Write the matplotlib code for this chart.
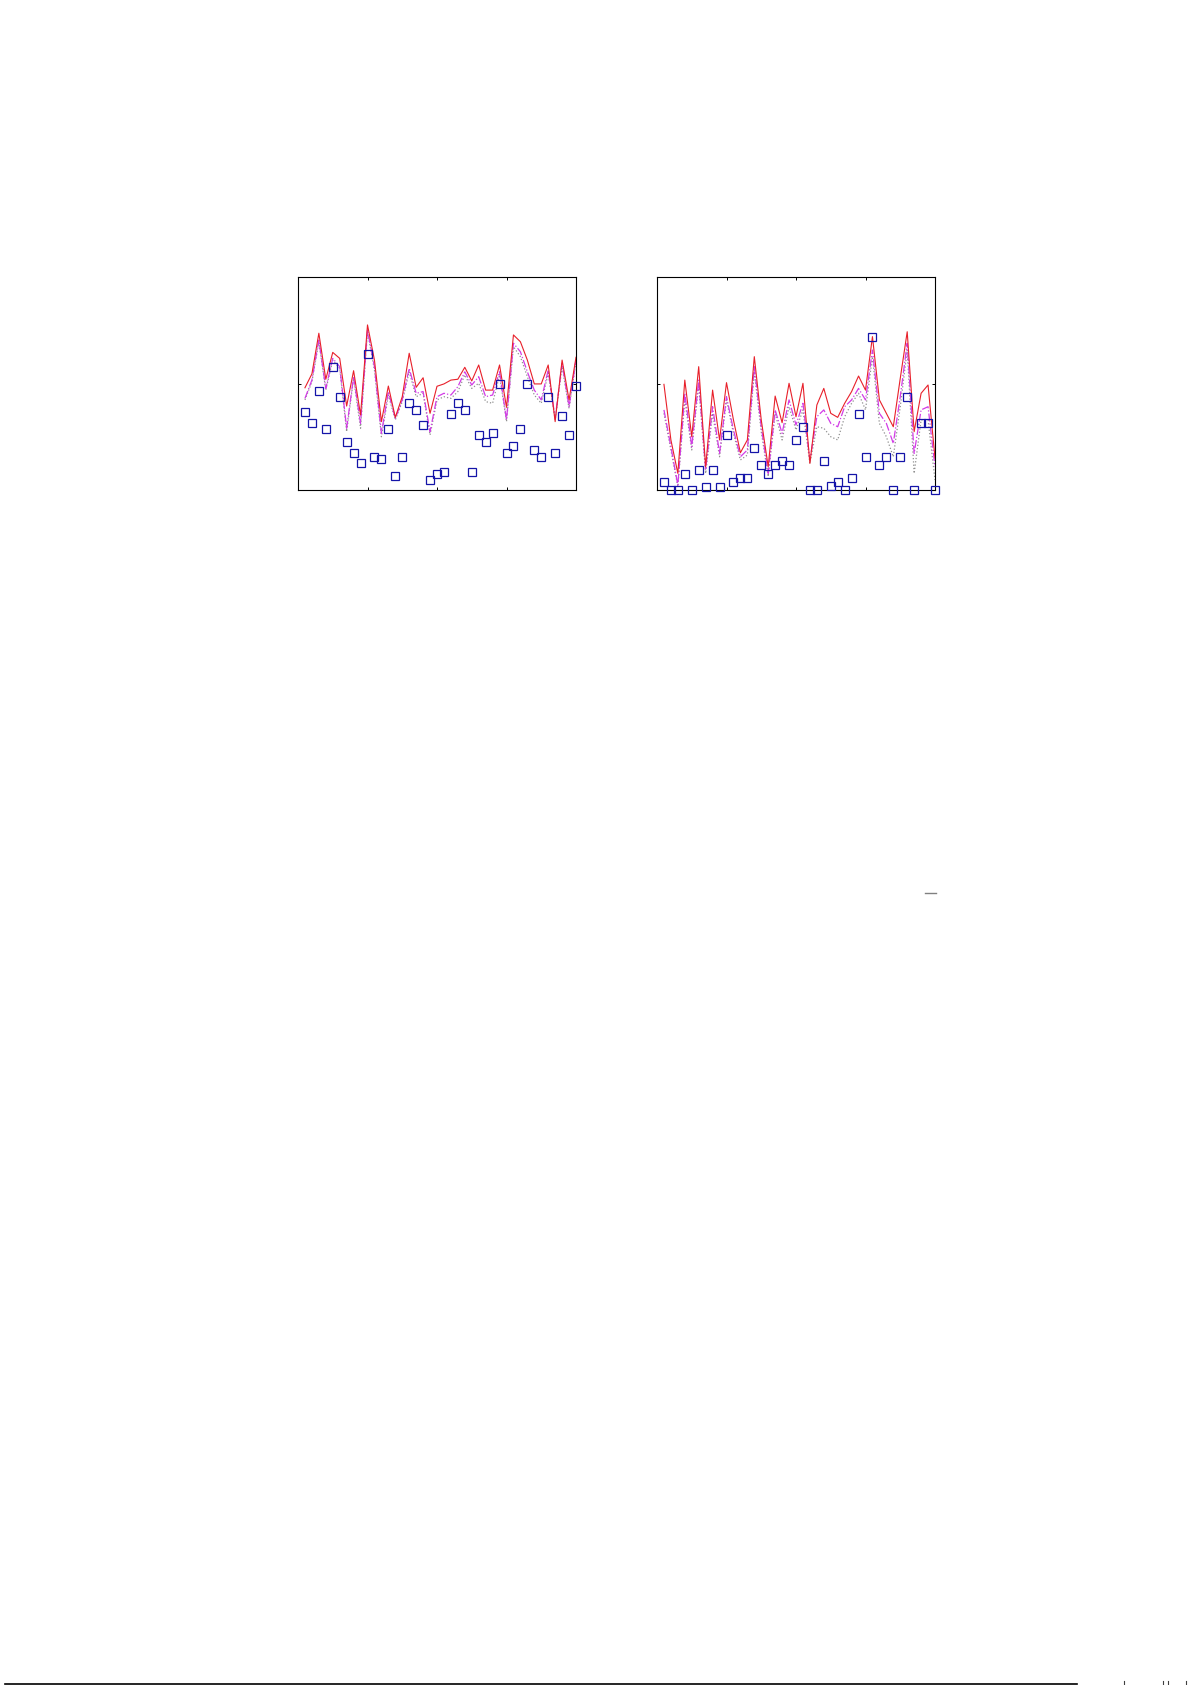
import numpy as np
import matplotlib
matplotlib.use("Agg")
import matplotlib.pyplot as plt
from matplotlib.lines import Line2D

# indeks punktu (1..40) - wspolny dla obu paneli
idx = np.arange(1, 41)

# lewy panel
left_solid = [0.480, 0.545, 0.736, 0.520, 0.646, 0.618, 0.394, 0.560, 0.352, 0.775,
              0.610, 0.321, 0.488, 0.341, 0.438, 0.642, 0.482, 0.527, 0.360, 0.487,
              0.498, 0.516, 0.520, 0.576, 0.512, 0.587, 0.469, 0.469, 0.587, 0.388,
              0.728, 0.696, 0.610, 0.498, 0.498, 0.587, 0.321, 0.610, 0.423, 0.623]
left_dashdot = [0.430, 0.516, 0.704, 0.477, 0.618, 0.579, 0.290, 0.532, 0.313, 0.751,
                0.579, 0.266, 0.462, 0.336, 0.423, 0.571, 0.454, 0.462, 0.274, 0.438,
                0.454, 0.446, 0.485, 0.555, 0.493, 0.532, 0.438, 0.446, 0.555, 0.329,
                0.689, 0.649, 0.555, 0.469, 0.423, 0.563, 0.336, 0.595, 0.391, 0.610]
left_dotted = [0.423, 0.508, 0.696, 0.469, 0.610, 0.571, 0.274, 0.524, 0.290, 0.743,
               0.563, 0.250, 0.446, 0.329, 0.415, 0.555, 0.438, 0.454, 0.258, 0.423,
               0.438, 0.430, 0.462, 0.540, 0.477, 0.501, 0.415, 0.407, 0.540, 0.321,
               0.673, 0.626, 0.532, 0.446, 0.407, 0.548, 0.329, 0.579, 0.383, 0.602]
left_squares = [0.368, 0.315, 0.466, 0.288, 0.579, 0.438, 0.227, 0.175, 0.128, 0.640,
                0.156, 0.147, 0.288, 0.067, 0.156, 0.407, 0.377, 0.307, 0.047, 0.075,
                0.085, 0.358, 0.407, 0.377, 0.085, 0.257, 0.227, 0.268, 0.499, 0.175,
                0.207, 0.288, 0.499, 0.186, 0.156, 0.438, 0.175, 0.349, 0.257, 0.487]

# prawy panel
right_solid = [0.496, 0.235, 0.078, 0.516, 0.250, 0.579, 0.109, 0.469, 0.235, 0.504,
               0.329, 0.175, 0.235, 0.626, 0.329, 0.109, 0.441, 0.316, 0.501, 0.344,
               0.501, 0.125, 0.399, 0.477, 0.360, 0.341, 0.407, 0.462, 0.535, 0.469,
               0.720, 0.423, 0.360, 0.297, 0.524, 0.743, 0.274, 0.454, 0.493, 0.150]
right_dashdot = [0.376, 0.203, 0.023, 0.454, 0.203, 0.516, 0.094, 0.391, 0.172, 0.438,
                 0.282, 0.156, 0.188, 0.579, 0.297, 0.078, 0.376, 0.266, 0.423, 0.305,
                 0.407, 0.141, 0.344, 0.376, 0.313, 0.297, 0.391, 0.423, 0.477, 0.423,
                 0.657, 0.360, 0.313, 0.219, 0.438, 0.689, 0.172, 0.376, 0.391, 0.109]
right_dotted = [0.360, 0.188, 0.016, 0.423, 0.188, 0.493, 0.078, 0.360, 0.156, 0.423,
                0.266, 0.141, 0.164, 0.555, 0.274, 0.063, 0.360, 0.235, 0.391, 0.282,
                0.376, 0.125, 0.297, 0.290, 0.250, 0.235, 0.344, 0.407, 0.454, 0.376,
                0.626, 0.313, 0.250, 0.156, 0.391, 0.657, 0.078, 0.329, 0.329, 0.047]
right_squares = [0.036, 0.0, 0.0, 0.077, 0.0, 0.095, 0.016, 0.095, 0.016, 0.257,
                 0.038, 0.058, 0.058, 0.199, 0.119, 0.077, 0.119, 0.138, 0.119, 0.236,
                 0.297, 0.0, 0.0, 0.136, 0.017, 0.038, 0.0, 0.058, 0.357, 0.156,
                 0.718, 0.117, 0.156, 0.0, 0.156, 0.438, 0.0, 0.316, 0.316, 0.0]

W, H = 1192, 1685
fig = plt.figure(figsize=(W / 100, H / 100), dpi=100)


def panel(x0, solid, dashdot, dotted, squares):
    ax = fig.add_axes([x0 / W, 1 - 490 / H, 278 / W, 213 / H])
    ax.plot(idx, dotted, color="#909090", linestyle=":", linewidth=0.9)
    ax.plot(idx, dashdot, color="#d23ce6", linestyle="-.", linewidth=0.9)
    ax.plot(idx, solid, color="#e8202a", linestyle="-", linewidth=0.8)
    ax.plot(idx, squares, linestyle="none", marker="s", markersize=5.2,
            markerfacecolor="none", markeredgecolor="#1414a8",
            markeredgewidth=0.9, clip_on=False, zorder=5)
    ax.set_xlim(0, 40)
    ax.set_ylim(0, 1)
    ax.set_xticks([10, 20, 30])
    ax.set_yticks([0.5])
    ax.tick_params(direction="in", length=2.5, width=0.7, top=True, right=True,
                   labelbottom=False, labelleft=False)
    for s in ax.spines.values():
        s.set_linewidth(0.8)
    return ax


panel(298, left_solid, left_dashdot, left_dotted, left_squares)
panel(657, right_solid, right_dashdot, right_dotted, right_squares)

# drobne fragmenty strony
fig.add_artist(Line2D([925 / W, 936 / W], [1 - 893 / H, 1 - 893 / H],
                      color="#808080", linewidth=1.0))
fig.add_artist(Line2D([5 / W, 1077 / W], [1 - 1683.5 / H, 1 - 1683.5 / H],
                      color="black", linewidth=1.2))
for xm in [1124, 1163, 1168, 1186]:
    fig.add_artist(Line2D([xm / W, xm / W], [0, 4 / H], color="#404040", linewidth=0.8))

fig.savefig("out.png", dpi=100)
